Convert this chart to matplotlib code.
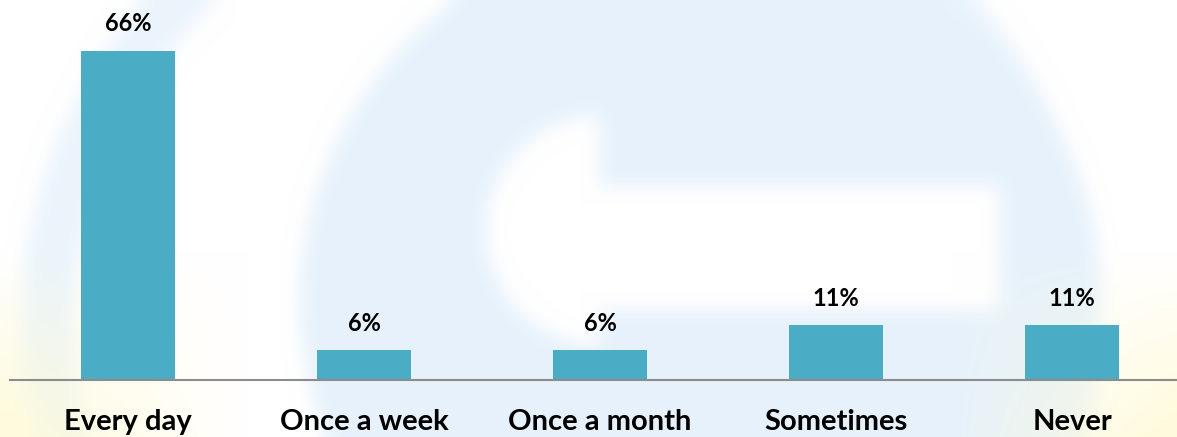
import numpy as np
import matplotlib.pyplot as plt

categories = ["Every day", "Once a week", "Once a month", "Sometimes", "Never"]
values = [66, 6, 6, 11, 11]
labels = ["66%", "6%", "6%", "11%", "11%"]

BAR_COLOR = "#4BACC6"


def blur(a, r=12):
    # cheap separable box blur, run twice
    k = np.ones(2 * r + 1) / (2 * r + 1)
    for _ in range(2):
        a = np.apply_along_axis(lambda v: np.convolve(np.pad(v, r, mode="edge"), k, "valid"), 1, a)
        a = np.apply_along_axis(lambda v: np.convolve(np.pad(v, r, mode="edge"), k, "valid"), 0, a)
    return a


def background(w=1177, h=437):
    # faint watermark-like backdrop: pale blue disc with a white "G", yellow corners
    yy, xx = np.mgrid[0:h, 0:w]
    blue = np.array([0.87, 0.93, 0.98])
    yellow = np.array([1.0, 0.98, 0.84])
    d_outer = np.hypot((xx - 560) / 540.0, (yy - 330) / 520.0)
    ring = (np.abs(d_outer - 0.95) < 0.05).astype(float)
    d_inner = np.hypot((xx - 700) / 400.0, (yy - 300) / 380.0)
    disc = (d_inner < 1).astype(float)
    g = ((xx > 590) & (xx < 1000) & (yy > 185) & (yy < 310)).astype(float)
    g = np.maximum(g, ((np.hypot(xx - 600, yy - 230) < 115) & (xx < 600)).astype(float))
    disc = disc * (1 - g)
    a = blur(np.maximum(ring * 0.6, disc * 0.75), 10)[..., None]
    img = np.ones((h, w, 3)) * (1 - a) + blue * a
    ylw = np.clip((yy - 250) / 200.0, 0, 1) * (np.clip((250 - xx) / 250.0, 0, 1) + np.clip((xx - 950) / 230.0, 0, 1))
    ylw = np.clip(ylw, 0, 0.8)[..., None]
    img = img * (1 - ylw) + yellow * ylw
    return img


fig = plt.figure(figsize=(11.77, 4.37), dpi=100)
bg = fig.add_axes([0, 0, 1, 1])
bg.imshow(background(), aspect="auto")
bg.axis("off")

# axis runs slightly beyond the right edge, like the original slide
ax = fig.add_axes([10 / 1177, (437 - 380) / 437, 1180 / 1177, 340 / 437])
ax.patch.set_alpha(0)
x = np.arange(len(categories))
bars = ax.bar(x, values, width=0.4, color=BAR_COLOR)
ax.set_xlim(-0.5, len(categories) - 0.5)
ax.set_ylim(0, 340 / 4.99)

for b, lab in zip(bars, labels):
    ax.annotate(lab, (b.get_x() + b.get_width() / 2, b.get_height()),
                xytext=(0, 11), textcoords="offset points", ha="center", va="bottom",
                fontsize=17, fontweight="bold", family="Lato")

ax.set_xticks(x)
ax.set_xticklabels(categories, fontsize=21, fontweight="bold", family="Lato")
ax.tick_params(axis="x", length=0, pad=21)
ax.set_yticks([])
for s in ["top", "right", "left"]:
    ax.spines[s].set_visible(False)
ax.spines["bottom"].set_color("#8c8c8c")
ax.spines["bottom"].set_linewidth(1.5)

fig.savefig("out.png", dpi=100)
